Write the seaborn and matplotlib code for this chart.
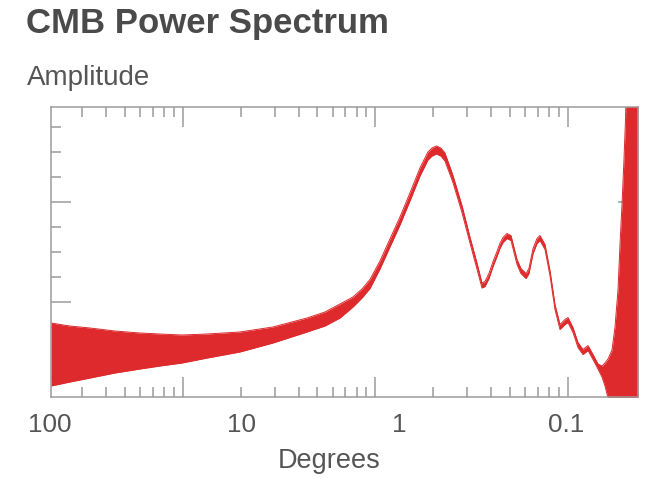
import numpy as np
import matplotlib
matplotlib.use("Agg")
import matplotlib.pyplot as plt
import matplotlib.ticker as mticker
import pandas as pd
import seaborn as sns

# ---- data (multipole l on a log axis, amplitude band) ----
ell = [2.07, 2.59, 3.30, 4.44, 5.99, 7.61, 9.90, 13.4, 19.8, 29.4,
       44.2, 54.8, 65.6, 76.6, 85.3, 93.9, 105.8, 119.2, 134.4, 151.4,
       170.7, 187.8, 197, 208, 219, 230.2, 253.3, 282.1, 310.4, 337.6,
       358.4, 371.4, 389.6, 409, 428.8, 444, 461, 483, 507, 525.5,
       545, 571, 607, 628.5, 660, 692, 717, 761.4, 808.1, 858.1,
       910.9, 967.0, 1002.4, 1064.2, 1129.9, 1199.5, 1273.5, 1352, 1435.2, 1505.6,
       1561, 1618, 1697, 1759, 1823, 1867, 1912, 1958, 1994, 2030,
       2316]
amp_upper = [1580, 1520, 1480, 1420, 1380, 1360, 1340, 1360, 1400, 1500,
             1680, 1800, 1960, 2100, 2260, 2450, 2820, 3260, 3700, 4180,
             4680, 5000, 5080, 5120, 5080, 4980, 4530, 3930, 3300, 2780,
             2380, 2410, 2570, 2810, 3010, 3170, 3290, 3370, 3330, 3090,
             2850, 2670, 2570, 2670, 3070, 3270, 3330, 3150, 2630, 1950,
             1550, 1650, 1690, 1490, 1190, 1050, 1130, 950, 760, 720,
             780, 860, 1040, 1500, 2240, 3140, 3940, 4840, 5640, 6240,
             8040]
amp_lower = [320, 400, 480, 580, 660, 720, 780, 880, 1000, 1180,
             1400, 1520, 1680, 1900, 2080, 2270, 2660, 3100, 3540, 4020,
             4520, 4840, 4920, 4960, 4920, 4820, 4390, 3790, 3180, 2660,
             2280, 2310, 2470, 2710, 2910, 3070, 3190, 3270, 3230, 2990,
             2750, 2570, 2470, 2570, 2970, 3170, 3230, 3050, 2530, 1850,
             1450, 1550, 1590, 1390, 1090, 950, 1030, 850, 660, 500,
             320, 80, -60, -160, -260, -360, -460, -560, -660, -760,
             -960]

deg_labels = ["100", "10", "1", "0.1"]
deg_label_pos = [2.03, 20.1, 134, 979]

title = "CMB Power Spectrum"
ylabel = "Amplitude"
xlabel = "Degrees"

df = pd.DataFrame({"ell": ell, "upper": amp_upper, "lower": amp_lower})

RED = "#DE2A2C"
GRAY = "#9B9B9B"
TXT = "#4A4A4A"

sns.set_theme(style="white")
plt.rcParams["font.family"] = ["Liberation Sans", "DejaVu Sans"]

fig = plt.figure(figsize=(6.6, 5.03), dpi=100)
ax = fig.add_axes([51 / 660, 1 - 397 / 503, (638 - 51) / 660, (397 - 107) / 503])
ax.set_xscale("log")

ax.fill_between(df["ell"], df["lower"], df["upper"], color=RED, linewidth=0, zorder=1)
sns.lineplot(data=df, x="ell", y="upper", ax=ax, color=RED, linewidth=0.7, zorder=1.5)
sns.lineplot(data=df, x="ell", y="lower", ax=ax, color=RED, linewidth=0.7, zorder=1.5)

ax.set_xlim(2.07, 2316)
ax.set_ylim(100, 5900)
ax.set_xlabel("")
ax.set_ylabel("")

ax.xaxis.set_major_locator(mticker.LogLocator(base=10, numticks=10))
ax.xaxis.set_minor_locator(mticker.LogLocator(base=10, subs=np.arange(2, 10), numticks=20))
ax.xaxis.set_major_formatter(mticker.NullFormatter())
ax.xaxis.set_minor_formatter(mticker.NullFormatter())
ax.yaxis.set_major_locator(mticker.MultipleLocator(2000))
ax.yaxis.set_minor_locator(mticker.MultipleLocator(500))
ax.yaxis.set_major_formatter(mticker.NullFormatter())

ax.tick_params(which="both", direction="in", top=True, right=True, bottom=True, left=True,
               color=GRAY, width=1.1, labelbottom=False, labelleft=False)
ax.tick_params(which="major", length=14.4)
ax.tick_params(which="minor", length=7.2)
for s in ax.spines.values():
    s.set_color(GRAY)
    s.set_linewidth(1.1)
    s.set_visible(True)

for lab, pos in zip(deg_labels, deg_label_pos):
    ax.text(pos, (397 - 425) / 290, lab, transform=ax.get_xaxis_transform(),
            ha="center", va="center", fontsize=18.8, color="#555555", clip_on=False)

fig.text(329 / 660, 1 - 461 / 503, xlabel, ha="center", va="center", fontsize=19.5, color="#555555")
fig.text(27 / 660, 1 - 85 / 503, ylabel, ha="left", va="baseline", fontsize=20, color="#555555")
fig.text(26 / 660, 1 - 33.5 / 503, title, ha="left", va="baseline", fontsize=25,
         fontweight="bold", color=TXT)

fig.savefig("out.png", dpi=100)
